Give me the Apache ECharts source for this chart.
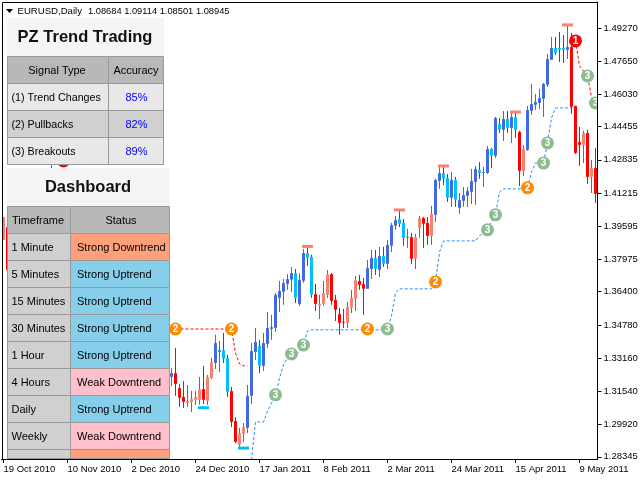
<!DOCTYPE html>
<html><head><meta charset="utf-8">
<style>html,body{margin:0;padding:0;background:#fff}#c{width:640px;height:480px}</style>
<script src="https://cdn.jsdelivr.net/npm/echarts@6/dist/echarts.min.js"></script>
</head><body><div id="c"></div>
<script>
const BAR_COUNT = 149;
const DATE_TICKS = ['19 Oct 2010','10 Nov 2010','2 Dec 2010','24 Dec 2010','17 Jan 2011','8 Feb 2011','2 Mar 2011','24 Mar 2011','15 Apr 2011','9 May 2011'];
const BARS_PER_DATE_TICK = 16;
const priceTicks = [1.49270,1.47650,1.46030,1.44455,1.42835,1.41215,1.39595,1.37975,1.36400,1.34780,1.33160,1.31540,1.29920,1.28345];

// bars visible at the far left edge / through the gap between panels
const earlyIdx    = [0,1,12];
const earlyKinds  = ['S','R','B'];
const earlyOpens  = [1.3893,1.3956,1.4100];
const earlyCloses = [1.4005,1.3746,1.4180];
const earlyLows   = [1.3893,1.3746,1.4050];
const earlyHighs  = [1.4005,1.3956,1.4283];

// bars 42..148. B up/strong, C pullback in uptrend, R down/strong, S pullback in downtrend
const firstBar = 42;
const kinds = ('B RRR SSSS R SS BB CC RR SS BBB C BBBBBBBB C BB CC R SSS RRRR SSS RR BB C B C BBB CC B R SS RR S BB CC B C BBBBB C BB C B C B C B C R S BBBBBBB CCC B RRR S R S R').replace(/ /g,'').split('');
const opens = [1.3224,1.3243,1.3170,1.3127,1.3097,1.3102,1.3112,1.3112,1.3165,1.3107,1.3219,1.3292,1.3346,1.3356,1.3317,1.3156,1.3009,1.2893,1.2945,1.2975,1.3132,1.3346,1.3376,1.3278,1.3385,1.3458,1.3463,1.3610,1.3639,1.3678,1.3698,1.3731,1.3580,1.3693,1.3829,1.3810,1.3629,1.3571,1.3580,1.3625,1.3726,1.3600,1.3532,1.3493,1.3488,1.3561,1.3605,1.3693,1.3678,1.3654,1.3751,1.3805,1.3746,1.3815,1.3776,1.3864,1.3961,1.3995,1.3976,1.3903,1.3907,1.3800,1.3951,1.4000,1.3976,1.3912,1.4015,1.4181,1.4219,1.4195,1.4098,1.4186,1.4049,1.4083,1.4107,1.4127,1.4176,1.4234,1.4219,1.4219,1.4337,1.4303,1.4459,1.4430,1.4483,1.4439,1.4493,1.4420,1.4229,1.4332,1.4522,1.4552,1.4561,1.4581,1.4649,1.4771,1.4830,1.4830,1.4830,1.4820,1.4835,1.4547,1.4371,1.4356,1.4415,1.4200,1.4244];
const closes = [1.3243,1.3189,1.3122,1.3102,1.3107,1.3117,1.3127,1.3165,1.3112,1.3224,1.3297,1.3390,1.3356,1.3312,1.3151,1.3004,1.2907,1.2950,1.2980,1.3132,1.3351,1.3395,1.3278,1.3390,1.3463,1.3468,1.3625,1.3644,1.3683,1.3702,1.3731,1.3610,1.3698,1.3829,1.3805,1.3625,1.3580,1.3580,1.3634,1.3726,1.3595,1.3551,1.3488,1.3488,1.3566,1.3610,1.3698,1.3673,1.3654,1.3756,1.3805,1.3751,1.3815,1.3776,1.3869,1.3966,1.3990,1.3971,1.3903,1.3907,1.3800,1.3907,1.4000,1.3971,1.3912,1.4020,1.4186,1.4219,1.4191,1.4098,1.4186,1.4088,1.4088,1.4112,1.4132,1.4181,1.4239,1.4219,1.4224,1.4337,1.4303,1.4488,1.4430,1.4483,1.4439,1.4493,1.4430,1.4229,1.4337,1.4527,1.4556,1.4566,1.4586,1.4654,1.4776,1.4830,1.4805,1.4820,1.4820,1.4835,1.4542,1.4317,1.4356,1.4415,1.4200,1.4244,1.4117];
const lows = [1.3180,1.3132,1.3078,1.3073,1.3078,1.3053,1.3088,1.3088,1.3092,1.3088,1.3214,1.3263,1.3248,1.3292,1.3127,1.2980,1.2902,1.2883,1.2907,1.2950,1.3092,1.3307,1.3243,1.3253,1.3366,1.3405,1.3444,1.3541,1.3576,1.3649,1.3639,1.3585,1.3571,1.3683,1.3766,1.3610,1.3546,1.3507,1.3571,1.3610,1.3576,1.3497,1.3430,1.3463,1.3463,1.3536,1.3546,1.3649,1.3527,1.3654,1.3702,1.3722,1.3712,1.3761,1.3751,1.3834,1.3942,1.3956,1.3864,1.3854,1.3776,1.3751,1.3903,1.3854,1.3869,1.3869,1.3981,1.4142,1.4161,1.4078,1.4054,1.4054,1.4020,1.4054,1.4054,1.4068,1.4064,1.4191,1.4151,1.4215,1.4244,1.4293,1.4415,1.4376,1.4415,1.4366,1.4391,1.4156,1.4205,1.4327,1.4503,1.4527,1.4532,1.4493,1.4639,1.4771,1.4796,1.4761,1.4756,1.4776,1.4508,1.4312,1.4254,1.4268,1.4166,1.4122,1.4073];
const highs = [1.3268,1.3366,1.3189,1.3204,1.3185,1.3156,1.3156,1.3224,1.3278,1.3234,1.3317,1.3430,1.3400,1.3439,1.3332,1.3175,1.3029,1.2975,1.2999,1.3185,1.3390,1.3463,1.3405,1.3439,1.3541,1.3527,1.3634,1.3693,1.3702,1.3726,1.3761,1.3751,1.3731,1.3849,1.3864,1.3820,1.3678,1.3625,1.3693,1.3746,1.3731,1.3625,1.3561,1.3556,1.3590,1.3649,1.3717,1.3722,1.3707,1.3795,1.3844,1.3844,1.3859,1.3859,1.3893,1.3976,1.4010,1.4039,1.3995,1.3947,1.3927,1.3922,1.4010,1.4005,1.4005,1.4059,1.4191,1.4258,1.4254,1.4215,1.4224,1.4200,1.4122,1.4151,1.4151,1.4239,1.4254,1.4273,1.4249,1.4351,1.4342,1.4493,1.4488,1.4522,1.4522,1.4522,1.4517,1.4425,1.4356,1.4547,1.4654,1.4605,1.4630,1.4659,1.4800,1.4883,1.4883,1.4908,1.4893,1.4942,1.4903,1.4547,1.4444,1.4425,1.4430,1.4283,1.4342];

// dashed trailing stops: start bar + one price per bar
const blueStart = 62;
const blueTrail = [1.2819,1.3004,1.3004,1.3004,1.3058,1.3097,1.3132,1.3219,1.3283,1.3317,1.3336,1.3336,1.3346,1.3380,1.3449,1.3454,1.3454,1.3454,1.3454,1.3454,1.3454,1.3454,1.3454,1.3454,1.3454,1.3454,1.3454,1.3454,1.3454,1.3454,1.3454,1.3454,1.3454,1.3454,1.3458,1.3522,1.3634,1.3654,1.3654,1.3654,1.3654,1.3654,1.3654,1.3654,1.3654,1.3654,1.3688,1.3834,1.3888,1.3888,1.3888,1.3888,1.3888,1.3888,1.3888,1.3888,1.3888,1.3912,1.3932,1.3942,1.3981,1.4015,1.4127,1.4142,1.4142,1.4142,1.4142,1.4142,1.4142,1.4147,1.4224,1.4268,1.4268,1.4268,1.4366,1.4488,1.4537,1.4537,1.4537,1.4537,1.4537];
const redStartA = 43;
const redTrailA = [1.3458,1.3458,1.3458,1.3458,1.3458,1.3458,1.3458,1.3458,1.3458,1.3458,1.3458,1.3458,1.3458,1.3458,1.3458,1.3341,1.3288,1.3278,1.3278];
const redStartB = 143;
const redTrailB = [1.4864,1.4742,1.4717,1.4693,1.4590,1.4561];

// numbered signals
const signal1Bars = [15,143];        const signal1Prices = [1.4278,1.4864];
const signal2Bars = [43,57,91,108,131]; const signal2Prices = [1.3458,1.3458,1.3458,1.3688,1.4147];
const signal3Bars = [68,72,75,96,121,123,135,136,146,148];
const signal3Prices = [1.3137,1.3336,1.3380,1.3458,1.3942,1.4015,1.4268,1.4366,1.4693,1.4561];
// swing dashes
const swingHighBars = [76,99,110,128,141]; const swingHighPrices = [1.3861,1.4039,1.4254,1.4517,1.4942];
const swingLowBars = [50,60];             const swingLowPrices = [1.3074,1.2877];

const signalHead = ['Signal Type','Accuracy'];
const signalNames = ['(1) Trend Changes','(2) Pullbacks','(3) Breakouts'];
const signalAcc = ['85%','82%','89%'];
const dashHead = ['Timeframe','Status'];
const dashFrames = ['1 Minute','5 Minutes','15 Minutes','30 Minutes','1 Hour','4 Hours','Daily','Weekly',''];
const dashStatus = ['Strong Downtrend','Strong Uptrend','Strong Uptrend','Strong Uptrend','Strong Uptrend','Weak Downtrend','Strong Uptrend','Weak Downtrend',''];
const dashFills = ['#FFA07A','#87CEEB','#87CEEB','#87CEEB','#87CEEB','#FFC0CB','#87CEEB','#FFC0CB','#FFA07A'];

const bodyColor = {B:'#4169E1',C:'#00BFFF',R:'#FF0000',S:'#FA8072'};
const wickColor = {B:'#4169E1',C:'#FF0000',R:'#FF0000',S:'#4169E1'};
const paint = c => ({color:c,color0:c,colorDoji:c,borderColor:c,borderColor0:c,borderColorDoji:c});
const STROKE_PAD = 0.00024; // half a stroke, in price units, so outlined bodies keep their true height

const wickData = [], bodyData = [];
for (let i=0;i<BAR_COUNT;i++){ wickData.push({value:['-','-','-','-']}); bodyData.push({value:['-','-','-','-']}); }
function putBar(i,k,o,c,l,h){
  wickData[i] = {value:[o,c,l,h], itemStyle:paint(wickColor[k])};
  let top = Math.max(o,c)-STROKE_PAD, bot = Math.min(o,c)+STROKE_PAD;
  if (bot>top) top = bot = (top+bot)/2;
  const v = o>=c ? [top,bot,bot,top] : [bot,top,bot,top];
  bodyData[i] = {value:v, itemStyle:paint(bodyColor[k])};
}
earlyIdx.forEach((b,n)=>putBar(b,earlyKinds[n],earlyOpens[n],earlyCloses[n],earlyLows[n],earlyHighs[n]));
opens.forEach((o,n)=>putBar(firstBar+n,kinds[n],o,closes[n],lows[n],highs[n]));

const categories = Array.from({length:BAR_COUNT},(_,i)=> i%BARS_PER_DATE_TICK===0 ? (DATE_TICKS[i/BARS_PER_DATE_TICK]||'') : '');
const trail = (start,vals)=>{const a=new Array(BAR_COUNT).fill('-');vals.forEach((v,n)=>a[start+n]=v);return a;};
const pairs = (b,p)=>b.map((x,n)=>[x,p[n]]);

const FONT = '"Liberation Sans",Arial,sans-serif';
const els = [];
function rect(x,y,w,h,fill,stroke){els.push({type:'rect',silent:true,z:100,shape:{x:x+(stroke?.5:0),y:y+(stroke?.5:0),width:w,height:h},style:{fill,stroke:stroke||null,lineWidth:1}});}
function text(t,x,y,font,fill,align){if(!t)return;els.push({type:'text',silent:true,z:102,style:{text:t,x,y,font,fill:fill||'#000',textAlign:align||'left',textVerticalAlign:'middle'}});}
const cellFont = '11px '+FONT, titleFont='bold 16.5px '+FONT;

// right white strip so right-edge markers stop at the frame
els.push({type:'rect',silent:true,z:90,shape:{x:598,y:0,width:42,height:480},style:{fill:'#fff'}});
els.push({type:'line',silent:true,z:96,shape:{x1:2.5,y1:2.5,x2:597.5,y2:2.5},style:{stroke:'#000',lineWidth:1}});
els.push({type:'line',silent:true,z:96,shape:{x1:2.5,y1:2.5,x2:2.5,y2:459},style:{stroke:'#000',lineWidth:1}});
// header strip
els.push({type:'polygon',silent:true,z:102,shape:{points:[[6,9],[13,9],[9.5,13]]},style:{fill:'#000'}});
text('EURUSD,Daily',17.5,11,'9.6px '+FONT);
text('1.08684 1.09114 1.08501 1.08945',88,11,'9.3px '+FONT);

// panel 1
rect(7,18,157,38,'#F5F5F5');
text('PZ Trend Trading',85,37,titleFont,'#111','center');
const p1col=[7,108,163], p1y=[56,83,110,137,164];
rect(p1col[0],p1y[0],p1col[1]-p1col[0],27,'#B8B8B8','#999');
rect(p1col[1],p1y[0],p1col[2]-p1col[1],27,'#B8B8B8','#999');
text(signalHead[0],57,71,cellFont,'#000','center');
text(signalHead[1],136,71,cellFont,'#000','center');
signalNames.forEach((n,r)=>{
  const f = r%2?'#D0D0D0':'#E8E8E8', y=p1y[r+1];
  rect(p1col[0],y,p1col[1]-p1col[0],27,f,'#999');
  rect(p1col[1],y,p1col[2]-p1col[1],27,f,'#999');
  text(n,11.5,y+15,'10.7px '+FONT);
  text(signalAcc[r],136.5,y+15,cellFont,'#0000FF','center');
});

// panel 2
rect(7,168,163,38,'#F5F5F5');
text('Dashboard',88,187,titleFont,'#111','center');
const p2col=[7,70,169], rowH=27, p2top=206;
rect(p2col[0],p2top,p2col[1]-p2col[0],rowH,'#B8B8B8','#999');
rect(p2col[1],p2top,p2col[2]-p2col[1],rowH,'#B8B8B8','#999');
text(dashHead[0],38,221,cellFont,'#000','center');
text(dashHead[1],121,221,cellFont,'#000','center');
dashFrames.forEach((n,r)=>{
  const y=p2top+rowH*(r+1), h = Math.min(rowH, 458-y);
  rect(p2col[0],y,p2col[1]-p2col[0],h,'#D0D0D0','#999');
  rect(p2col[1],y,p2col[2]-p2col[1],h,dashFills[r],'#999');
  text(n,11.5,y+15,cellFont);
  text(dashStatus[r],77,y+15,cellFont);
});

const mkSignal = (bars,prices,color,digit)=>({type:'scatter',data:pairs(bars,prices),symbol:'circle',symbolSize:13,z:6,clip:false,
  itemStyle:{color,opacity:1},label:{show:true,position:'inside',formatter:digit,color:'#fff',fontSize:10,fontWeight:'bold',fontFamily:FONT}});
const mkDash = (bars,prices,color)=>({type:'scatter',data:pairs(bars,prices),symbol:'rect',symbolSize:[11,3],z:5,itemStyle:{color,opacity:1}});
const mkTrail = (start,vals,color)=>({type:'line',data:trail(start,vals),symbol:'none',z:4,connectNulls:false,lineStyle:{color,width:1,type:[3,2]}});

const chart = echarts.init(document.getElementById('c'),null,{renderer:'canvas',width:640,height:480});
chart.setOption({
  animation:false, backgroundColor:'#fff', tooltip:{show:false},
  grid:{left:1.5,top:2,width:596,height:457,show:false,containLabel:false,outerBoundsMode:'none'},
  xAxis:{type:'category',data:categories,boundaryGap:true,z:95,
    axisLine:{show:true,lineStyle:{color:'#000',width:1}},
    axisTick:{show:true,alignWithLabel:true,interval:BARS_PER_DATE_TICK-1,length:4,lineStyle:{color:'#000'}},
    axisLabel:{show:true,interval:BARS_PER_DATE_TICK-1,align:'left',margin:5,color:'#000',fontSize:9.5,fontFamily:FONT,hideOverlap:false},
    splitLine:{show:false}},
  yAxis:{type:'value',position:'right',min:1.28237,max:1.50538,scale:true,z:95,
    axisLine:{show:true,onZero:false,lineStyle:{color:'#000',width:1}},
    axisTick:{show:true,length:4,customValues:priceTicks,lineStyle:{color:'#000'}},
    axisLabel:{show:true,customValues:priceTicks,margin:6,color:'#000',fontSize:9.5,fontFamily:FONT,formatter:v=>v.toFixed(5)},
    splitLine:{show:false}},
  graphic:{elements:els},
  series:[
    {type:'candlestick',name:'wicks',data:wickData,barWidth:1,z:2},
    {type:'candlestick',name:'bodies',data:bodyData,barWidth:2,z:3,itemStyle:{borderWidth:1}},
    mkTrail(blueStart,blueTrail,'#1E90FF'),
    mkTrail(redStartA,redTrailA,'#FF0000'),
    mkTrail(redStartB,redTrailB,'#FF0000'),
    mkDash(swingHighBars,swingHighPrices,'#FA8072'),
    mkDash(swingLowBars,swingLowPrices,'#00BFFF'),
    mkSignal(signal1Bars,signal1Prices,'#FF0000','1'),
    mkSignal(signal2Bars,signal2Prices,'#FF8C00','2'),
    mkSignal(signal3Bars,signal3Prices,'#8FBC8F','3')
  ]
});
</script></body></html>
